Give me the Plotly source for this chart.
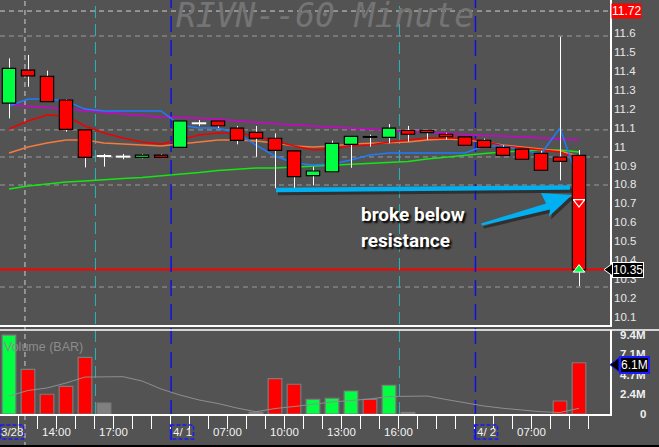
import plotly.graph_objects as go

# ---------------- data ----------------
opens  = [11.229, 11.404, 11.371, 11.246, 11.088, 10.950, 10.947, 10.943, 10.955, 10.996,
          11.123, 11.135, 11.097, 11.075, 11.044, 10.977, 10.846, 10.867, 11.012, 11.051,
          11.049, 11.085, 11.085, 11.065, 11.051, 11.033, 10.996, 10.986, 10.964, 10.945, 10.953]
highs  = [11.466, 11.484, 11.401, 11.251, 11.090, 10.961, 10.961, 10.961, 10.961, 11.135,
          11.140, 11.135, 11.109, 11.109, 11.070, 10.977, 10.894, 11.031, 11.054, 11.063,
          11.119, 11.109, 11.085, 11.073, 11.051, 11.042, 11.007, 10.986, 10.978, 11.580, 10.982]
lows   = [11.149, 11.316, 11.237, 11.079, 10.890, 10.894, 10.933, 10.938, 10.943, 10.996,
          11.108, 11.098, 11.012, 10.946, 10.780, 10.780, 10.795, 10.867, 10.888, 11.000,
          11.017, 11.026, 11.036, 11.038, 11.007, 10.996, 10.954, 10.933, 10.875, 10.822, 10.263]
closes = [11.413, 11.373, 11.237, 11.091, 10.943, 10.950, 10.947, 10.955, 10.943, 11.135,
          11.123, 11.110, 11.033, 11.044, 10.980, 10.841, 10.871, 11.017, 11.054, 11.051,
          11.097, 11.065, 11.074, 11.052, 11.007, 10.996, 10.954, 10.933, 10.875, 10.922, 10.350]

ma_magenta = [11.220, 11.214, 11.206, 11.198, 11.188, 11.180, 11.172, 11.164, 11.156, 11.154,
              11.151, 11.146, 11.135, 11.127, 11.122, 11.114, 11.109, 11.103, 11.098, 11.093,
              11.088, 11.082, 11.074, 11.069, 11.061, 11.058, 11.056, 11.051, 11.045, 11.040, 11.035]
ma_blue    = [11.214, 11.251, 11.251, 11.241, 11.198, 11.188, 11.188, 11.188, 11.188, 11.114,
              11.098, 11.098, 11.072, 11.008, 10.950, 10.913, 10.903, 10.908, 10.929, 10.955,
              10.966, 10.966, 10.966, 10.966, 10.966, 11.003, 11.003, 10.982, 10.961, 11.098, 10.808]
ma_red     = [11.093, 11.135, 11.167, 11.161, 11.109, 11.072, 11.045, 11.024, 11.014, 11.035,
              11.061, 11.072, 11.072, 11.056, 11.029, 11.003, 10.982, 10.987, 11.003, 11.008,
              11.024, 11.035, 11.045, 11.045, 11.045, 11.029, 11.003, 10.993, 10.982, 10.971, 10.929]
ma_orange  = [10.966, 10.998, 11.019, 11.035, 11.035, 11.019, 11.014, 11.008, 11.003, 11.014,
              11.024, 11.035, 11.035, 11.029, 11.019, 11.003, 10.998, 11.003, 11.014, 11.016,
              11.019, 11.024, 11.035, 11.040, 11.035, 11.024, 11.008, 10.998, 10.987, 10.977, 10.950]
ma_green   = [10.776, 10.792, 10.802, 10.813, 10.818, 10.826, 10.831, 10.837, 10.845, 10.855,
              10.863, 10.874, 10.882, 10.887, 10.887, 10.892, 10.895, 10.900, 10.905, 10.911,
              10.916, 10.921, 10.934, 10.945, 10.955, 10.963, 10.971, 10.977, 10.982, 10.982, 10.971]

volumes_m  = [9.4, 5.32, 2.35, 3.30, 6.75, 1.31, 0, 0, 0, 0,
              0, 0, 0, 0.2, 4.20, 3.54, 1.75, 1.87, 2.74, 1.75,
              3.42, 0.2, 0, 0, 0, 0, 0, 0, 0, 1.55, 6.1]
volume_dir = ['up', 'down', 'down', 'down', 'down', 'flat', 'flat', 'flat', 'flat', 'flat',
              'flat', 'flat', 'flat', 'flat', 'down', 'down', 'up', 'up', 'up', 'down',
              'up', 'flat', 'flat', 'flat', 'flat', 'flat', 'flat', 'flat', 'flat', 'down', 'down']
volume_ma  = [2.14, 2.80, 3.10, 3.69, 4.40, 4.44, 4.44, 3.93, 2.98, 2.26,
              1.67, 1.25, 0.71, 0.27, 0.65, 0.89, 1.19, 1.43, 1.61, 1.79,
              2.08, 2.14, 2.14, 1.73, 1.31, 0.95, 0.68, 0.48, 0.27, 0.18, 0.68]

price_ticks = [10.1, 10.2, 10.3, 10.4, 10.5, 10.6, 10.7, 10.8, 10.9, 11.0, 11.1, 11.2, 11.3, 11.4, 11.5, 11.6]
price_tick_text = ['10.1', '10.2', '10.3', '10.4', '10.5', '10.6', '10.7', '10.8', '10.9', '11',
                   '11.1', '11.2', '11.3', '11.4', '11.5', '11.6']
volume_ticks = [9.4, 7.1, 4.7, 2.4, 0]
volume_tick_text = ['9.4M', '7.1M', '4.7M', '2.4M', '0']
hour_label_pos = [2.5, 5.5, 11.5, 14.5, 17.5, 20.5, 27.5]
hour_labels = ['14:00', '17:00', '07:00', '10:00', '13:00', '16:00', '07:00']
date_label_pos = [-0.5, 8.5, 24.5]
date_labels = ['3/28', '4/ 1', '4/ 2']
dashed_levels = [11.716, 11.584, 11.088, 10.945, 10.797, 10.258]
session_breaks = [4.55, 20.55]
day_breaks = [8.53, 24.55]
cursor_x = 0.84
high_of_view = 11.72
last_volume_label = '6.1M'
sell_signal_price = 10.707
buy_signal_price = 10.35
title_text = 'RIVN--60 Minute'

# ---------------- geometry ----------------
W, H = 659, 447
PW, PH = 610, 414          # plot area
BAR_PX, FIRST_PX = 19, 9
PRICE_BOTTOM_PX, VOL_TOP_PX = 325, 330
x_range = [(0 - FIRST_PX) / BAR_PX, (PW - FIRST_PX) / BAR_PX]
price_range = [10.0574, 11.7743]
vol_range = [0, 10.0]
price_domain = [(PH - PRICE_BOTTOM_PX) / PH, 1]
vol_domain = [0, (PH - VOL_TOP_PX) / PH]
HALF_PX = 0.5 / BAR_PX     # half-pixel nudge in bar units, for crisp 1px wicks

def xp(px):  # pixel -> paper x
    return px / PW

def yp(py):  # pixel -> paper y
    return (PH - py) / PH

def xd(px):  # pixel -> bar units
    return x_range[0] + px / PW * (x_range[1] - x_range[0])

def pdat(py):  # pixel -> price
    return price_range[1] - py / PRICE_BOTTOM_PX * (price_range[1] - price_range[0])

BG = '#535353'
GREEN = '#00ff40'
RED = '#ff0000'
FONT = 'Liberation Sans, Arial, sans-serif'

n = len(closes)
idx = list(range(n))

fig = go.Figure()

# moving averages (base price subplot, under candles)
for vals, col in [(ma_green, '#14e614'), (ma_orange, '#f57a3c'), (ma_red, '#f00000'),
                  (ma_magenta, '#d000d0'), (ma_blue, '#1e7cff')]:
    fig.add_trace(go.Scatter(x=idx, y=vals, mode='lines', line=dict(color=col, width=1.5),
                             xaxis='x', yaxis='y', hoverinfo='skip', showlegend=False))

# wicks
wx, wy = [], []
for i in idx:
    wx += [i + HALF_PX, i + HALF_PX, None]
    wy += [lows[i], highs[i], None]
fig.add_trace(go.Scatter(x=wx, y=wy, mode='lines', line=dict(color='white', width=1),
                         xaxis='x', yaxis='y', hoverinfo='skip', showlegend=False))

# bodies (overlay subplot, above lines)
black_doji = {19}
bases, heights, fills, edges = [], [], [], []
for i in idx:
    o, c = opens[i], closes[i]
    if abs(c - o) < 1e-9:
        bases.append(o - 0.002)
        heights.append(0.004)
        col = 'black' if i in black_doji else 'white'
        fills.append(col)
        edges.append(col)
    else:
        bases.append(min(o, c))
        heights.append(abs(c - o))
        fills.append(GREEN if c > o else RED)
        edges.append('black')
fig.add_trace(go.Bar(x=idx, y=heights, base=bases, width=0.70,
                     marker=dict(color=fills, line=dict(color=edges, width=1.2)),
                     xaxis='x3', yaxis='y3', hoverinfo='skip', showlegend=False))

# signals
fig.add_trace(go.Scatter(x=[n - 1], y=[sell_signal_price], mode='markers',
                         marker=dict(symbol='triangle-down-open', size=10, color='white',
                                     line=dict(color='white', width=1.3)),
                         xaxis='x3', yaxis='y3', hoverinfo='skip', showlegend=False))
fig.add_trace(go.Scatter(x=[n - 1], y=[buy_signal_price], mode='markers',
                         marker=dict(symbol='triangle-up', size=10, color=GREEN,
                                     line=dict(color='white', width=1)),
                         xaxis='x3', yaxis='y3', hoverinfo='skip', showlegend=False))

# volume
vcol = {'up': GREEN, 'down': RED, 'flat': '#808080'}
fig.add_trace(go.Bar(x=idx, y=[v if v > 0 else None for v in volumes_m], width=0.72,
                     marker=dict(color=[vcol[d] for d in volume_dir],
                                 line=dict(color='#7c7c7c', width=1.2)),
                     xaxis='x2', yaxis='y2', hoverinfo='skip', showlegend=False))
fig.add_trace(go.Scatter(x=idx, y=volume_ma, mode='lines', line=dict(color='#8e8e8e', width=1),
                         xaxis='x2', yaxis='y2', hoverinfo='skip', showlegend=False))

# ---------------- shapes ----------------
shapes = []
for k, lv in enumerate(dashed_levels):
    shapes.append(dict(type='line', xref='paper', yref='y', x0=0, x1=1, y0=lv, y1=lv, layer='below',
                       line=dict(color='#d0d0d0' if k == 0 else '#9a9a9a', width=1, dash='5px,4px')))
shapes.append(dict(type='line', xref='paper', yref='y', x0=0, x1=1, y0=closes[-1], y1=closes[-1],
                   layer='below', line=dict(color=RED, width=2)))
# vertical separators
shapes.append(dict(type='line', xref='x', yref='paper', x0=cursor_x, x1=cursor_x, y0=yp(447), y1=1,
                   layer='below', line=dict(color='#cfcfcf', width=1, dash='5px,4px')))
for sx in session_breaks:
    shapes.append(dict(type='line', xref='x', yref='paper', x0=sx, x1=sx, y0=0, y1=1, layer='below',
                       line=dict(color='#2cb5b5', width=1, dash='12px,6px')))
for dx in day_breaks:
    shapes.append(dict(type='line', xref='x', yref='paper', x0=dx, x1=dx, y0=yp(440), y1=1, layer='below',
                       line=dict(color='#1010e0', width=1.5, dash='16px,8px')))
# panel separator and bottom border
shapes.append(dict(type='line', xref='paper', yref='paper', x0=0, x1=W / PW, y0=yp(VOL_TOP_PX), y1=yp(VOL_TOP_PX),
                   line=dict(color='white', width=1.5)))
shapes.append(dict(type='line', xref='paper', yref='paper', x0=0, x1=W / PW, y0=yp(446), y1=yp(446),
                   line=dict(color='black', width=2)))
# date boxes
for pos, lab in zip(date_label_pos, date_labels):
    x0px = FIRST_PX + pos * BAR_PX
    x0px = max(x0px, 0.5)
    shapes.append(dict(type='rect', xref='paper', yref='paper', x0=xp(x0px), x1=xp(x0px + 23),
                       y0=yp(425), y1=yp(439), line=dict(color='#1a1aff', width=1.5, dash='4px,2px')))

# resistance line with shadow
for off, col in [((2, 3), 'rgba(25,25,25,0.6)'), ((0, 0), '#00b0f0')]:
    shapes.append(dict(type='line', xref='x', yref='y',
                       x0=xd(276 + off[0]), y0=pdat(190 + off[1]), x1=xd(570 + off[0]), y1=pdat(187.5 + off[1]),
                       line=dict(color=col, width=4.5)))
# tapered arrow with shadow
arrow_px = [(481, 223.5), (546, 203.5), (541, 193.0), (572, 195.0), (549, 216.5), (550, 209.5), (482, 225.5)]
for off, col in [((2, 3), 'rgba(25,25,25,0.6)'), ((0, 0), '#00b0f0')]:
    pts = [(xd(a + off[0]), pdat(b + off[1])) for a, b in arrow_px]
    path = 'M ' + ' L '.join(f'{x:.4f},{y:.4f}' for x, y in pts) + ' Z'
    shapes.append(dict(type='path', xref='x', yref='y', path=path, fillcolor=col, line=dict(width=0)))

# label arrows (right side)
def tri(tip_x, cy, base_x, half, fill, edge):
    pts = [(tip_x, cy), (base_x, cy - half), (base_x, cy + half)]
    path = 'M ' + ' L '.join(f'{xp(a):.5f},{yp(b):.5f}' for a, b in pts) + ' Z'
    return dict(type='path', xref='paper', yref='paper', path=path, fillcolor=fill,
                line=dict(color=edge, width=1))

last_py = PRICE_BOTTOM_PX * (price_range[1] - closes[-1]) / (price_range[1] - price_range[0])
shapes.append(tri(604, last_py, 613, 6.5, 'black', 'white'))
vol_last_py = PH - volumes_m[-1] * (PH - VOL_TOP_PX) / vol_range[1]
shapes.append(tri(610, vol_last_py + 2, 619, 7, 'black', '#1a1aff'))

# ---------------- annotations ----------------
ann = []
ann.append(dict(text=title_text, xref='paper', yref='paper', x=xp(325), y=yp(15), showarrow=False,
                xanchor='center', yanchor='middle',
                font=dict(family='DejaVu Sans Mono, monospace', size=33, color='#747474', style='italic')))
ann.append(dict(text='Volume (BAR)', xref='paper', yref='paper', x=xp(2), y=yp(347), showarrow=False,
                xanchor='left', yanchor='middle', font=dict(family=FONT, size=12.5, color='#8c8c8c')))
for pos, lab in zip(hour_label_pos, hour_labels):
    ann.append(dict(text=lab, xref='x2', yref='paper', x=pos, y=yp(432), showarrow=False,
                    xanchor='center', yanchor='middle', font=dict(family=FONT, size=11.5, color='#f2f2f2')))
for pos, lab in zip(date_label_pos, date_labels):
    x0px = max(FIRST_PX + pos * BAR_PX, 0.5)
    ann.append(dict(text=lab, xref='paper', yref='paper', x=xp(x0px + 11.5), y=yp(432), showarrow=False,
                    xanchor='center', yanchor='middle', font=dict(family=FONT, size=11.5, color='#f2f2f2')))
for v, t in zip(volume_ticks, volume_tick_text):
    ann.append(dict(text=t, xref='paper', yref='y2', x=xp(648), y=v, showarrow=False,
                    xanchor='right', yanchor='middle',
                    font=dict(family=FONT, size=11.5, color='#f0f0f0', weight=700)))
ann.append(dict(text=last_volume_label, xref='paper', yref='paper', x=xp(619), y=yp(vol_last_py + 2),
                showarrow=False, xanchor='left', yanchor='middle', bgcolor='black', bordercolor='#1a1aff',
                borderwidth=2, borderpad=0, font=dict(family=FONT, size=12, color='white')))
ann.append(dict(text=f'{high_of_view:.2f}', xref='paper', yref='paper', x=xp(611), y=yp(11), showarrow=False,
                xanchor='left', yanchor='middle', bgcolor=RED, borderpad=0,
                font=dict(family=FONT, size=12, color='white')))
ann.append(dict(text=f'{closes[-1]:.2f}', xref='paper', yref='paper', x=xp(612), y=yp(last_py), showarrow=False,
                xanchor='left', yanchor='middle', bgcolor='black', bordercolor='white', borderwidth=1,
                borderpad=0, font=dict(family=FONT, size=12, color='white')))
for txt, py in [('broke below', 214), ('resistance', 240)]:
    ann.append(dict(text=txt, xref='paper', yref='paper', x=xp(359), y=yp(py), showarrow=False,
                    xanchor='left', yanchor='middle',
                    font=dict(family='Roboto, Liberation Sans, sans-serif', size=19, color='white',
                              weight=700, shadow='2px 2px 2px #000')))

fig.update_layout(
    width=W, height=H,
    margin=dict(l=0, r=W - PW, t=0, b=H - PH, pad=0),
    paper_bgcolor=BG, plot_bgcolor=BG,
    barmode='overlay', showlegend=False,
    xaxis=dict(domain=[0, 1], range=x_range, anchor='y', showgrid=False, zeroline=False,
               showticklabels=False, ticks='', showline=True, linecolor='white', linewidth=1.5),
    yaxis=dict(domain=price_domain, range=price_range, side='right', anchor='x', showgrid=False,
               zeroline=False, showline=True, linecolor='white', linewidth=1.5, ticks='',
               tickvals=price_ticks, ticktext=price_tick_text,
               tickfont=dict(family=FONT, size=11.5, color='#e8e8e8')),
    xaxis3=dict(overlaying='x', range=x_range, anchor='y3', visible=False),
    yaxis3=dict(overlaying='y', range=price_range, anchor='x3', visible=False),
    xaxis2=dict(domain=[0, 1], range=x_range, anchor='y2', showgrid=False, zeroline=False,
                showline=True, linecolor='white', linewidth=1.5,
                tickvals=[i + 0.5 for i in range(-1, n)], ticktext=['' for _ in range(-1, n)],
                ticks='outside', ticklen=13, tickcolor='white', tickwidth=1.2),
    yaxis2=dict(domain=vol_domain, range=vol_range, side='right', anchor='x2', showgrid=False,
                zeroline=False, showline=True, linecolor='white', linewidth=1.5,
                showticklabels=False, ticks=''),
    shapes=shapes, annotations=ann,
)

fig.write_html('out.html', config={'displayModeBar': False},
               post_script="document.body.style.margin='0';document.body.style.overflow='hidden';")
